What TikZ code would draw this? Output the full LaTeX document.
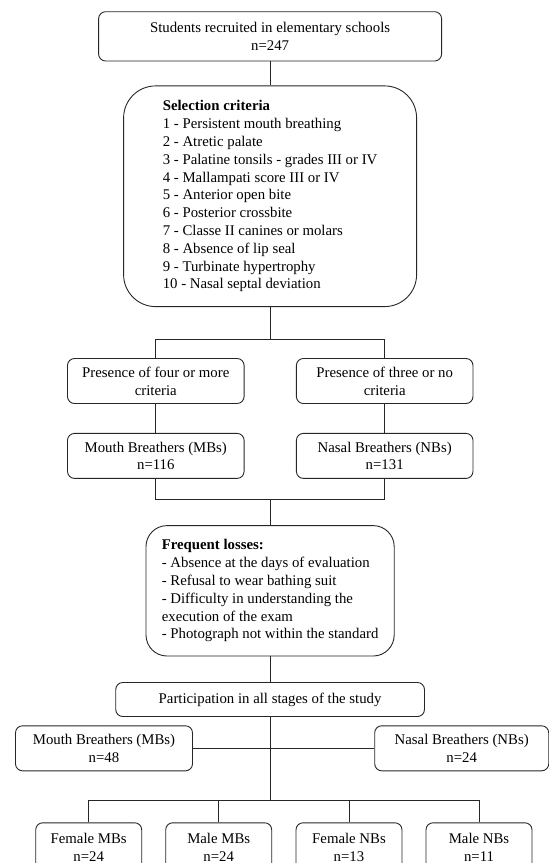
\documentclass[tikz,border=0pt]{standalone}
\usepackage{fontspec}
\setmainfont{Liberation Serif}
\usetikzlibrary{positioning}

\begin{document}
\begin{tikzpicture}[font=\fontsize{14.8}{17.8}\selectfont]
\tikzstyle{box} = [rectangle, draw=black!85, line width=0.9pt, rounded corners=7pt, align=center, minimum height=45pt, inner sep=2pt]
\tikzstyle{bigbox} = [rectangle, draw=black!85, line width=0.9pt, align=left, inner sep=2pt]
\tikzstyle{link} = [draw=black!85, line width=0.9pt]

\useasboundingbox (0,0) rectangle (549pt,-863pt);

\node (students) [box, minimum width=343pt, minimum height=49.3pt] at (270.1pt,-36.35pt) {Students recruited in elementary schools\\n=247};
\node (crit) [bigbox, rounded corners=32pt, minimum width=293pt, minimum height=220.7pt, below=24pt of students] {\textbf{Selection criteria}\\1 - Persistent mouth breathing\\2 - Atretic palate\\3 - Palatine tonsils - grades III or IV\\4 - Mallampati score III or IV\\5 - Anterior open bite\\6 - Posterior crossbite\\7 - Classe II canines or molars\\8 - Absence of lip seal\\9 - Turbinate hypertrophy\\10 - Nasal septal deviation};
\coordinate [below=32.6pt of crit] (split);

\node (four) [box, minimum width=176.6pt, below=18.4pt of split, xshift=-114.3pt] {Presence of four or more\\criteria};
\node (three) [box, minimum width=176.6pt, below=18.4pt of split, xshift=114.6pt] {Presence of three or no\\criteria};
\node (mbA) [box, minimum width=176.6pt, below=29pt of four] {Mouth Breathers (MBs)\\n=116};
\node (nbA) [box, minimum width=176.6pt, below=29pt of three] {Nasal Breathers (NBs)\\n=131};
\coordinate (merge) at ([yshift=-20.7pt]mbA.south -| crit.south);

\node (loss) [bigbox, rounded corners=21pt, minimum width=248.2pt, minimum height=130.4pt, below=25.6pt of merge] {\textbf{Frequent losses:}\\- Absence at the days of evaluation\\- Refusal to wear bathing suit\\- Difficulty in understanding the\\execution of the exam\\- Photograph not within the standard};
\node (part) [box, minimum width=308.7pt, minimum height=34pt, below=25.6pt of loss] {Participation in all stages of the study};

\node (mbB) [box, minimum width=177pt, below=8.4pt of part, xshift=-166.1pt] {Mouth Breathers (MBs)\\n=48};
\node (nbB) [box, minimum width=174pt, below=8.4pt of part, xshift=191.6pt] {Nasal Breathers (NBs)\\n=24};
\coordinate [below=83.7pt of part] (groups);

\node (fmb) [box, minimum width=106pt, minimum height=49pt, below=21.7pt of groups, xshift=-181.4pt] {Female MBs\\n=24};
\node (mmb) [box, minimum width=106pt, minimum height=49pt, below=21.7pt of groups, xshift=-51.4pt] {Male MBs\\n=24};
\node (fnb) [box, minimum width=106pt, minimum height=49pt, below=21.7pt of groups, xshift=78.9pt] {Female NBs\\n=13};
\node (mnb) [box, minimum width=106pt, minimum height=49pt, below=21.7pt of groups, xshift=208.9pt] {Male NBs\\n=11};

% connectors
\draw[link] (students) -- (crit);
\draw[link] (crit) -- (split);
\draw[link] (four.north) |- (split) -| (three.north);
\draw[link] (four) -- (mbA);
\draw[link] (three) -- (nbA);
\draw[link] (mbA.south) |- (merge) -| (nbA.south);
\draw[link] (merge) -- (loss);
\draw[link] (loss) -- (part);
\draw[link] (part) -- (groups);
\draw[link] (mbB) -- (nbB);
\draw[link] (fmb.north) |- (groups) -| (mnb.north);
\draw[link] (mmb.north) -- (mmb.north |- groups);
\draw[link] (fnb.north) -- (fnb.north |- groups);

\end{tikzpicture}
\end{document}
